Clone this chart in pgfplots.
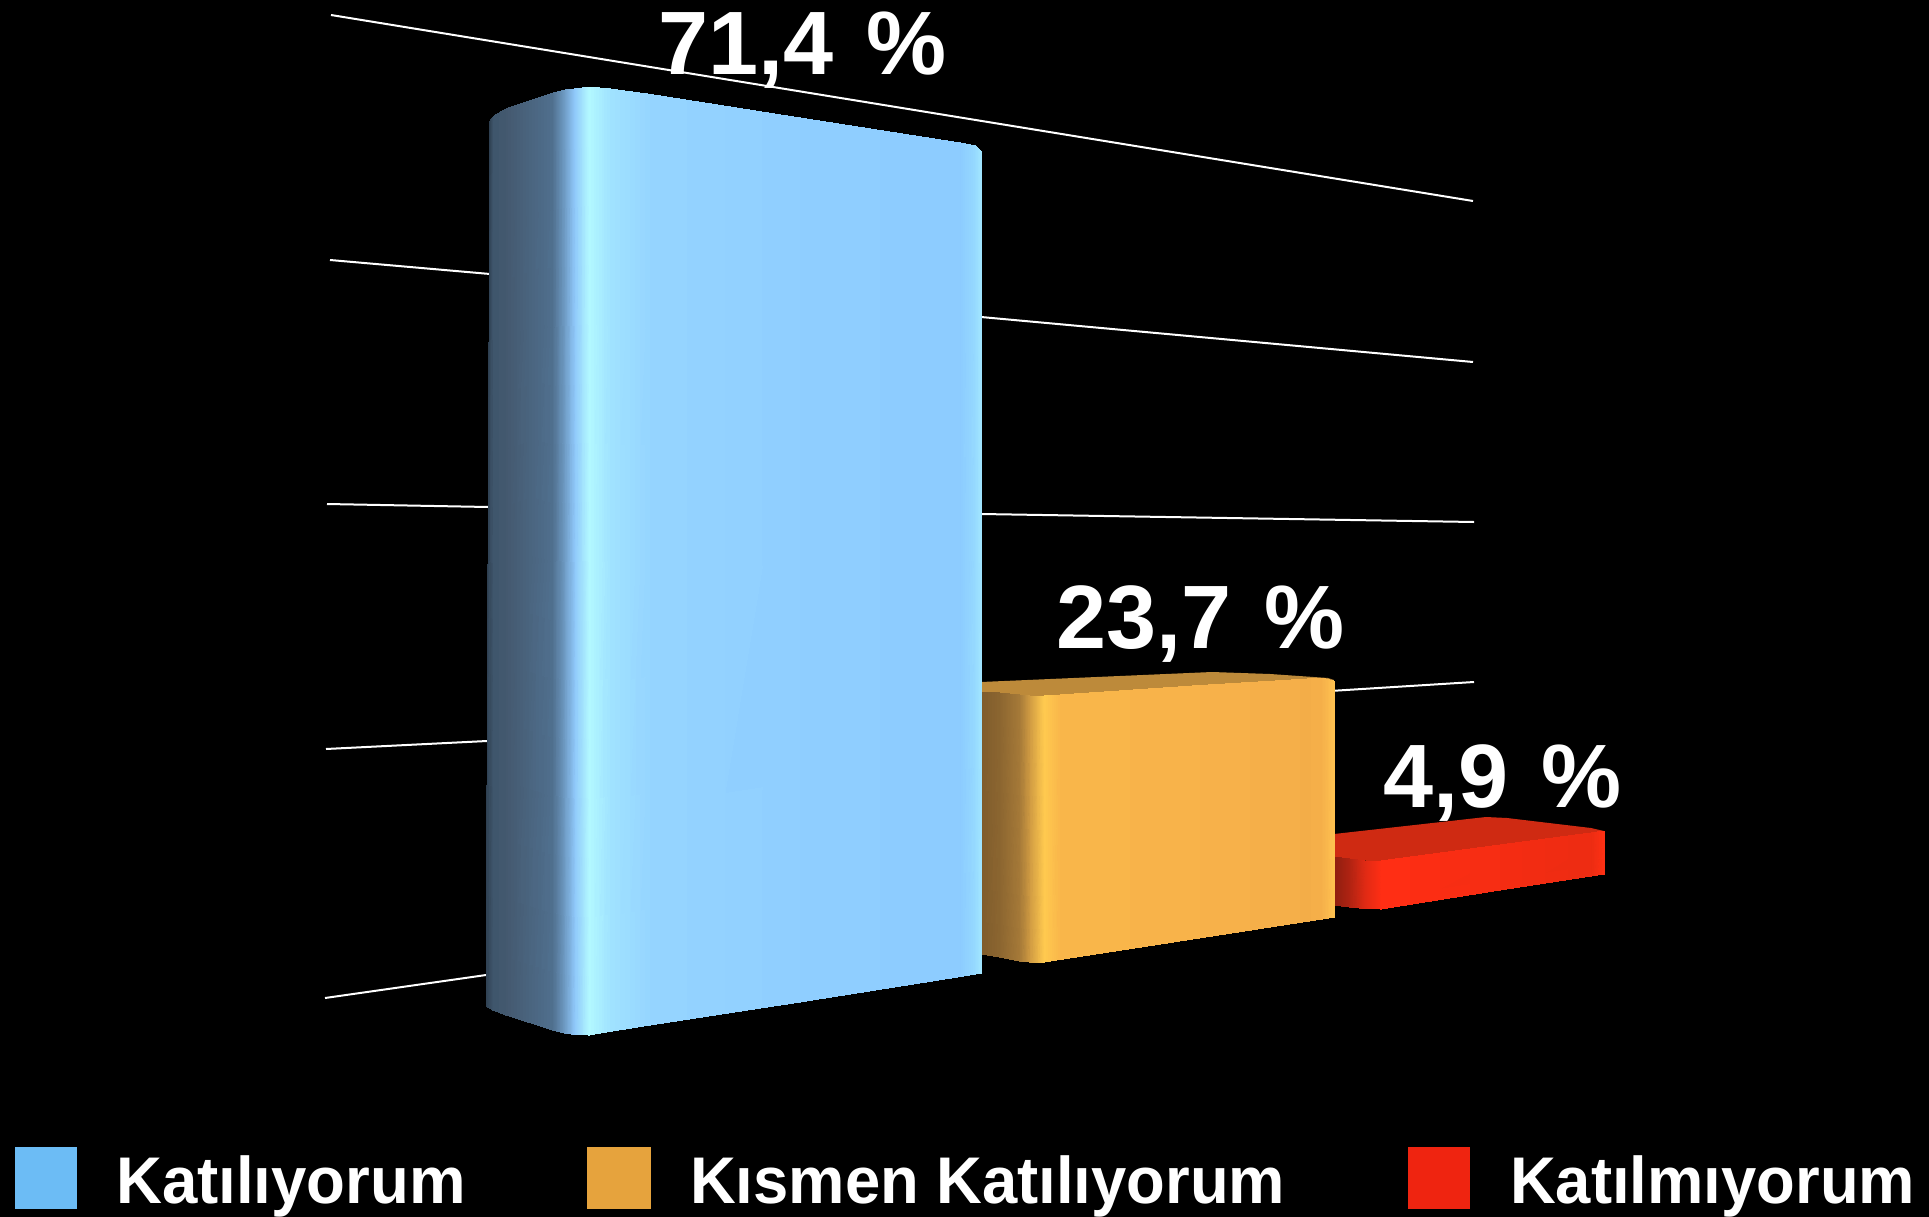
\documentclass[border=0pt]{standalone}
\usepackage{pgfplots}
\pgfplotsset{compat=1.18}
\usepackage{fontspec}
\setmainfont{Liberation Sans}
\definecolor{b0}{HTML}{2E3F50}\definecolor{b1}{HTML}{3F566C}\definecolor{b2}{HTML}{44596F}
\definecolor{b3}{HTML}{50708F}\definecolor{b4}{HTML}{6F9CC5}\definecolor{b5}{HTML}{8FC8FA}
\definecolor{b6}{HTML}{B2F8FF}\definecolor{b7}{HTML}{A0E2FF}\definecolor{b8}{HTML}{95D4FF}
\definecolor{b9}{HTML}{8FCEFF}\definecolor{b10}{HTML}{8CCBFF}\definecolor{b11}{HTML}{96DAFF}\definecolor{b12}{HTML}{A2E6FF}
\definecolor{o0}{HTML}{7F5C2C}\definecolor{o1}{HTML}{8C6630}\definecolor{o2}{HTML}{A67A38}
\definecolor{o3}{HTML}{CF9A42}\definecolor{o4}{HTML}{FFC94F}\definecolor{o5}{HTML}{F9B64A}
\definecolor{o6}{HTML}{F7B14A}\definecolor{o7}{HTML}{F3AD48}\definecolor{o8}{HTML}{F6B14A}\definecolor{o9}{HTML}{FFC250}
\definecolor{r0}{HTML}{8F1E10}\definecolor{r1}{HTML}{B02312}\definecolor{r2}{HTML}{E02A14}
\definecolor{r3}{HTML}{FF2E14}\definecolor{r4}{HTML}{F42C12}\definecolor{r5}{HTML}{EC2C12}\definecolor{r6}{HTML}{FF3014}
\definecolor{otop}{HTML}{BD8A3A}\definecolor{rtop}{HTML}{CF2A12}
\definecolor{lb}{HTML}{6CBCF5}\definecolor{lo}{HTML}{E6A33D}\definecolor{lr}{HTML}{EF2410}
\begin{document}
\begin{tikzpicture}
\begin{axis}[
  scale only axis, width=1929pt, height=1217pt,
  xmin=0, xmax=1929, ymin=0, ymax=1217, y dir=reverse,
  hide axis, clip=false,
  grid line/.style={white, line width=2pt, forget plot},
]
% background
\addplot[fill=black, draw=none] coordinates {(0,0)(1929,0)(1929,1217)(0,1217)} -- cycle;
% grid lines
\addplot[grid line] coordinates {(331,15)(1473,201)};
\addplot[grid line] coordinates {(330,260)(490,274)};
\addplot[grid line] coordinates {(981,317)(1473,362)};
\addplot[grid line] coordinates {(327,504)(488,507)};
\addplot[grid line] coordinates {(981,514)(1474,522)};
\addplot[grid line] coordinates {(326,749)(487,741)};
\addplot[grid line] coordinates {(1330,691)(1474,682)};
\addplot[grid line] coordinates {(325,998)(486,975)};
% red bar
\addplot[fill=rtop, draw=none] coordinates {(1334,834)(1486,817)(1507,818)(1591,828)(1604,831)(1591,834)(1381,862)(1334,858)} -- cycle;
\addplot[patch, patch type=rectangle, shader=interp, mesh/color input=explicit, table/row sep=\\,
  patch table={0 1 3 2\\2 3 5 4\\4 5 7 6\\6 7 9 8\\8 9 11 10\\10 11 13 12\\}]
table[meta=c] {
x y c\\
1334 857 color=r0\\ 1334 905 color=r0\\
1350 859 color=r1\\ 1350 907 color=r1\\
1365 861 color=r2\\ 1365 908.5 color=r2\\
1381 861 color=r3\\ 1381 909 color=r3\\
1500 845 color=r4\\ 1500 890 color=r4\\
1591 833 color=r5\\ 1591 876 color=r5\\
1604 831 color=r6\\ 1604 874 color=r6\\
};
% orange bar
\addplot[fill=otop, draw=none] coordinates {(981,682)(1212,672)(1270,674)(1328,678)(1334,680)(1326,680)(1074,695)(1044,698)(981,694)} -- cycle;
\addplot[patch, patch type=rectangle, shader=interp, mesh/color input=explicit, table/row sep=\\,
  patch table={0 1 3 2\\2 3 5 4\\4 5 7 6\\6 7 9 8\\8 9 11 10\\10 11 13 12\\12 13 15 14\\14 15 17 16\\16 17 19 18\\}]
table[meta=c] {
x y c\\
981 692 color=o0\\ 981 954 color=o0\\
1000 693 color=o1\\ 1000 957 color=o1\\
1020 695 color=o2\\ 1020 961 color=o2\\
1030 696 color=o3\\ 1030 962 color=o3\\
1044 696 color=o4\\ 1044 962 color=o4\\
1060 695 color=o5\\ 1060 959.5 color=o5\\
1200 685.5 color=o6\\ 1200 937.9 color=o6\\
1300 679.5 color=o7\\ 1300 922.4 color=o7\\
1322 678 color=o8\\ 1322 919 color=o8\\
1334 681 color=o9\\ 1334 917 color=o9\\
};
% blue bar
\addplot[patch, patch type=rectangle, shader=interp, mesh/color input=explicit, table/row sep=\\,
  patch table={0 1 3 2\\2 3 5 4\\4 5 7 6\\6 7 9 8\\8 9 11 10\\10 11 13 12\\12 13 15 14\\14 15 17 16\\16 17 19 18\\18 19 21 20\\20 21 23 22\\22 23 25 24\\}]
table[meta=c] {
x y c\\
490 120 color=b0\\ 486 1006 color=b0\\
494 116 color=b1\\ 493 1010 color=b1\\
506 109 color=b2\\ 506 1015 color=b2\\
553 93 color=b3\\ 553 1030 color=b3\\
565 90 color=b4\\ 565 1033 color=b4\\
575 89 color=b5\\ 575 1034.5 color=b5\\
589 87 color=b6\\ 589 1035 color=b6\\
610 89 color=b7\\ 610 1031.4 color=b7\\
650 94.4 color=b8\\ 650 1025 color=b8\\
800 118 color=b9\\ 800 1002 color=b9\\
960 143 color=b10\\ 960 976.6 color=b10\\
975 146 color=b11\\ 975 974 color=b11\\
981 152 color=b12\\ 981 973 color=b12\\
};
% value labels
\node[anchor=base west, inner sep=0pt, white, font=\fontsize{90}{90}\selectfont\bfseries] at (axis cs:658,75) {71,4\hspace{33pt}\%};
\node[anchor=base west, inner sep=0pt, white, font=\fontsize{90}{90}\selectfont\bfseries] at (axis cs:1056,648) {23,7\hspace{33pt}\%};
\node[anchor=base west, inner sep=0pt, white, font=\fontsize{90}{90}\selectfont\bfseries] at (axis cs:1383,807) {4,9\hspace{33pt}\%};
% legend
\addplot[fill=lb, draw=none] coordinates {(15,1147)(77,1147)(77,1209)(15,1209)} -- cycle;
\addplot[fill=lo, draw=none] coordinates {(587,1147)(651,1147)(651,1209)(587,1209)} -- cycle;
\addplot[fill=lr, draw=none] coordinates {(1408,1147)(1470,1147)(1470,1209)(1408,1209)} -- cycle;
\node[anchor=base west, inner sep=0pt, white, font=\fontsize{66}{66}\selectfont\bfseries] at (axis cs:116,1203) {\scalebox{.963}[1]{Katılıyorum}};
\node[anchor=base west, inner sep=0pt, white, font=\fontsize{66}{66}\selectfont\bfseries] at (axis cs:690,1203) {\scalebox{.96}[1]{Kısmen Katılıyorum}};
\node[anchor=base west, inner sep=0pt, white, font=\fontsize{66}{66}\selectfont\bfseries] at (axis cs:1510,1203) {\scalebox{.96}[1]{Katılmıyorum}};
\end{axis}
\end{tikzpicture}
\end{document}
